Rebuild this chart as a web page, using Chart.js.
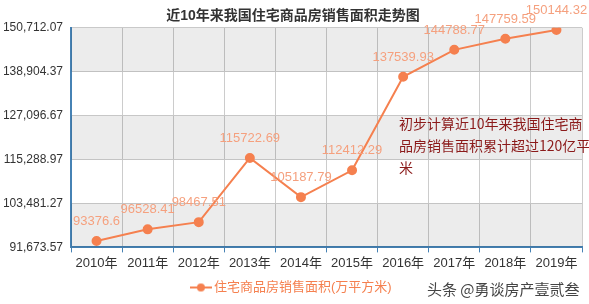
<!DOCTYPE html>
<html>
<head>
<meta charset="utf-8">
<script src="https://cdn.jsdelivr.net/npm/chart.js@4"></script>
<style>
  html, body { margin: 0; padding: 0; background: #fff; }
  #wrap { width: 589px; height: 304px; }
</style>
</head>
<body>
<div id="wrap"><canvas id="salesChart"></canvas></div>
<script>
// 数据
const years = ['2010年', '2011年', '2012年', '2013年', '2014年', '2015年', '2016年', '2017年', '2018年', '2019年'];
const salesArea = [93376.6, 96528.41, 98467.51, 115722.69, 105187.79, 112412.29, 137539.93, 144788.77, 147759.59, 150144.32];
const salesLabels = ['93376.6', '96528.41', '98467.51', '115722.69', '105187.79', '112412.29', '137539.93', '144788.77', '147759.59', '150144.32'];
const yTicks = [91673.57, 103481.27, 115288.97, 127096.67, 138904.37, 150712.07];
const noteLines = ['初步计算近10年来我国住宅商', '品房销售面积累计超过120亿平', '米'];

const FONT = '"Liberation Sans", Arial, "Noto Sans CJK SC", sans-serif';
const LINE_COLOR = '#f5804f';

// 图例标记 (线 + 圆点)
const marker = document.createElement('canvas');
marker.width = 22; marker.height = 10;
const mctx = marker.getContext('2d');
mctx.strokeStyle = LINE_COLOR;
mctx.lineWidth = 2;
mctx.beginPath(); mctx.moveTo(0, 5); mctx.lineTo(22, 5); mctx.stroke();
mctx.fillStyle = LINE_COLOR;
mctx.beginPath(); mctx.arc(11, 5, 4, 0, Math.PI * 2); mctx.fill();

// 背景条纹 + 数值标签 + 注释
const extras = {
  id: 'extras',
  beforeDatasetsDraw(chart) {
    const { ctx, chartArea, scales } = chart;
    ctx.save();
    for (let i = 0; i < yTicks.length - 1; i++) {
      if ((yTicks.length - 2 - i) % 2 !== 0) continue;
      const top = scales.y.getPixelForValue(yTicks[i + 1]);
      const bot = scales.y.getPixelForValue(yTicks[i]);
      ctx.fillStyle = 'rgba(0,0,0,0.075)';
      ctx.fillRect(chartArea.left, top, chartArea.right - chartArea.left, bot - top);
    }
    ctx.restore();
  },
  afterDatasetsDraw(chart) {
    const { ctx } = chart;
    const meta = chart.getDatasetMeta(0);
    ctx.save();
    ctx.font = '13px ' + FONT;
    ctx.fillStyle = '#f5a07e';
    ctx.textAlign = 'center';
    ctx.textBaseline = 'bottom';
    meta.data.forEach((pt, i) => {
      ctx.fillText(salesLabels[i], pt.x, pt.y - 13);
    });
    ctx.font = '14px "Noto Sans CJK SC", sans-serif';
    ctx.fillStyle = '#8b1a1a';
    ctx.textAlign = 'left';
    ctx.textBaseline = 'middle';
    noteLines.forEach((t, i) => ctx.fillText(t, 399, 124 + i * 22));
    ctx.font = '15px "Noto Sans CJK SC", sans-serif';
    ctx.fillStyle = '#444';
    ctx.fillText('头条 @勇谈房产壹贰叁', 427, 289);
    ctx.restore();
  }
};

const ctx = document.getElementById('salesChart').getContext('2d');
const salesChart = new Chart(ctx, {
  type: 'line',
  data: {
    labels: years,
    datasets: [{
      label: '住宅商品房销售面积(万平方米)',
      data: salesArea,
      borderColor: LINE_COLOR,
      backgroundColor: LINE_COLOR,
      borderWidth: 2,
      pointRadius: 4,
      pointHoverRadius: 4,
      tension: 0,
      fill: false
    }]
  },
  options: {
    responsive: true,
    maintainAspectRatio: false,
    animation: false,
    layout: { padding: { left: 4, right: 7, top: 0, bottom: 0 } },
    plugins: {
      title: {
        display: true,
        text: '近10年来我国住宅商品房销售面积走势图',
        color: '#333',
        font: { family: FONT, size: 14, weight: 'bold' },
        padding: { top: 8, bottom: 3 }
      },
      legend: {
        position: 'bottom',
        labels: {
          color: '#f5804f',
          font: { family: FONT, size: 13 },
          padding: 7,
          generateLabels(chart) {
            return [{
              text: chart.data.datasets[0].label,
              pointStyle: marker,
              fontColor: '#f5804f',
              datasetIndex: 0,
              hidden: false
            }];
          },
          usePointStyle: true
        }
      },
      tooltip: { enabled: false }
    },
    scales: {
      x: {
        offset: true,
        grid: { offset: true, color: '#cccccc', tickLength: 5, tickColor: '#4682b4' },
        border: { color: '#4682b4', width: 2 },
        ticks: { color: '#333', font: { family: FONT, size: 13 }, padding: 3 }
      },
      y: {
        min: yTicks[0],
        max: yTicks[yTicks.length - 1],
        afterBuildTicks(scale) {
          scale.ticks = yTicks.map(v => ({ value: v }));
        },
        afterFit(scale) { scale.width = 67; },
        grid: { color: '#cccccc', tickLength: 0 },
        border: { color: '#4682b4', width: 2 },
        ticks: {
          color: '#333',
          font: { family: FONT, size: 12 },
          padding: 8,
          callback: v => v.toLocaleString('en-US', { minimumFractionDigits: 2, maximumFractionDigits: 2 })
        }
      }
    }
  },
  plugins: [extras]
});
</script>
</body>
</html>
